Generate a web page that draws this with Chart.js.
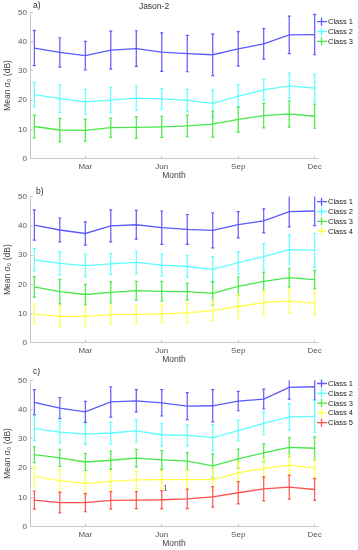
<!DOCTYPE html>
<html>
<head>
<meta charset="utf-8">
<script src="https://cdn.jsdelivr.net/npm/chart.js@4/dist/chart.umd.min.js"></script>
<style>
    html, body { margin: 0; padding: 0; background: #fff; overflow: hidden; }
    .panel { position: absolute; left: 0; width: 358px; height: 184px; }
</style>
</head>
<body>
<div class="panel" style="top:0"><canvas id="panelA" width="358" height="184"></canvas></div>
<div class="panel" style="top:184px"><canvas id="panelB" width="358" height="184"></canvas></div>
<div class="panel" style="top:368px"><canvas id="panelC" width="358" height="184"></canvas></div>
<script>
// months 1..12, only every third is labelled
const months = [1, 2, 3, 4, 5, 6, 7, 8, 9, 10, 11, 12];
const monthTicks = [3, 6, 9, 12];
const monthTickLabels = ['Mar', 'Jun', 'Sep', 'Dec'];
const yTicks = [0, 10, 20, 30, 40, 50];
const classNames = ['Class 1', 'Class 2', 'Class 3', 'Class 4', 'Class 5'];

// a) Jason-2, mean and standard deviation
const aClass1 = [37.8, 36.3, 35.2, 37.1, 37.6, 36.4, 35.9, 35.5, 37.5, 39.2, 42.3, 42.4];
const aClass1Std = [6.0, 5.0, 4.9, 6.5, 6.1, 6.6, 6.2, 7.1, 5.9, 5.2, 6.4, 6.9];
const aClass2 = [21.9, 20.5, 19.4, 20.0, 20.7, 20.4, 19.9, 18.9, 21.4, 23.5, 24.9, 24.1];
const aClass2Std = [4.2, 4.7, 4.3, 4.3, 4.2, 3.6, 3.8, 4.6, 3.9, 3.6, 4.3, 4.8];
const aClass3 = [11.0, 9.8, 9.7, 10.6, 10.7, 10.9, 11.2, 11.8, 13.4, 14.7, 15.3, 14.5];
const aClass3Std = [3.9, 4.0, 3.7, 3.3, 3.7, 3.6, 3.7, 4.4, 4.3, 4.2, 4.5, 4.1];

// b)
const bClass1 = [40.3, 38.6, 37.4, 40.0, 40.4, 39.4, 38.8, 38.5, 40.4, 41.7, 44.9, 45.1];
const bClass1Std = [5.2, 4.1, 4.0, 5.5, 4.9, 5.7, 5.1, 6.0, 4.5, 4.1, 5.2, 5.0];
const bClass2 = [28.4, 27.2, 26.4, 27.0, 27.5, 26.6, 26.1, 25.1, 27.4, 29.5, 31.9, 31.6];
const bClass2Std = [3.8, 4.0, 3.9, 3.6, 3.9, 3.7, 3.7, 4.4, 3.8, 4.4, 5.0, 5.8];
const bClass3 = [19.1, 17.5, 16.5, 17.2, 17.8, 17.6, 17.5, 16.9, 19.3, 21.0, 22.3, 21.6];
const bClass3Std = [3.5, 4.2, 3.5, 3.6, 3.2, 3.4, 2.8, 4.0, 3.2, 3.2, 3.2, 3.2];
const bClass4 = [9.8, 9.0, 9.0, 9.6, 9.7, 9.9, 10.2, 11.0, 12.4, 13.7, 14.3, 13.5];
const bClass4Std = [3.4, 3.6, 3.4, 3.2, 3.2, 3.2, 3.3, 3.4, 3.9, 4.1, 4.2, 3.9];

// c)
const cClass1 = [42.5, 40.5, 39.2, 42.6, 43.0, 42.3, 41.2, 41.3, 42.9, 43.6, 47.6, 47.8];
const cClass1Std = [4.3, 3.6, 3.6, 5.2, 3.8, 4.5, 4.6, 5.5, 3.3, 3.4, 4.0, 4.5];
const cClass2 = [33.6, 32.3, 31.6, 32.0, 32.7, 31.4, 31.2, 30.4, 32.8, 35.3, 37.5, 37.7];
const cClass2Std = [4.2, 3.7, 3.5, 3.7, 3.8, 3.8, 3.6, 4.5, 3.5, 3.9, 4.5, 5.5];
const cClass3 = [24.6, 23.5, 22.1, 22.7, 23.4, 22.8, 22.4, 20.8, 23.2, 25.2, 27.1, 26.8];
const cClass3Std = [2.7, 2.9, 2.9, 3.1, 3.0, 3.2, 2.9, 4.1, 3.3, 3.1, 3.3, 3.9];
const cClass4 = [17.2, 15.7, 14.8, 15.5, 16.0, 16.1, 16.1, 16.1, 18.4, 19.9, 21.0, 20.0];
const cClass4Std = [3.3, 3.8, 3.6, 3.3, 3.0, 3.0, 3.2, 3.6, 3.6, 3.3, 3.4, 3.2];
const cClass5 = [9.1, 8.2, 8.2, 9.0, 9.1, 9.2, 9.5, 10.2, 11.6, 12.9, 13.5, 12.7];
const cClass5Std = [3.1, 3.5, 3.1, 3.0, 2.9, 3.1, 3.3, 3.5, 3.8, 4.1, 4.1, 3.7];

// stray "1" mark in panel c (data coordinates)
const cNoteX = 6.15;
const cNoteY = 12.8;

const classColors = ['#5a5aff', '#5cffff', '#48e848', '#ffff48', '#ff5050'];
const fontFamily = '"Liberation Sans", Arial, Helvetica, sans-serif';

const errorBarPlugin = {
    id: 'errorBars',
    beforeDatasetsDraw(chart) {
        const ctx = chart.ctx;
        const area = chart.chartArea;
        const yScale = chart.scales.y;
        ctx.save();
        ctx.beginPath();
        ctx.rect(area.left - 4, area.top, area.right - area.left + 8, area.bottom - area.top);
        ctx.clip();
        chart.data.datasets.forEach(function (dataset, i) {
            const meta = chart.getDatasetMeta(i);
            ctx.strokeStyle = dataset.borderColor;
            ctx.lineWidth = 1.2;
            meta.data.forEach(function (point, j) {
                const mean = dataset.data[j].y;
                const sd = dataset.errors[j];
                const x = point.x;
                const yTop = yScale.getPixelForValue(mean + sd);
                const yBottom = yScale.getPixelForValue(mean - sd);
                ctx.beginPath();
                ctx.moveTo(x, yTop);
                ctx.lineTo(x, yBottom);
                ctx.moveTo(x - 1.5, yTop);
                ctx.lineTo(x + 1.5, yTop);
                ctx.moveTo(x - 1.5, yBottom);
                ctx.lineTo(x + 1.5, yBottom);
                ctx.stroke();
            });
        });
        ctx.restore();
    }
};

const panelTextPlugin = {
    id: 'panelText',
    afterDraw(chart, args, opts) {
        const ctx = chart.ctx;
        ctx.save();
        ctx.textBaseline = 'middle';

        // panel letter and title
        ctx.fillStyle = '#333';
        ctx.font = '8.5px ' + fontFamily;
        ctx.textAlign = 'left';
        ctx.fillText(opts.letter, opts.letterX, opts.letterY);
        if (opts.title) {
            ctx.textAlign = 'center';
            ctx.fillText(opts.title, 154, 7);
        }

        // legend: errorbar glyph + label
        ctx.textAlign = 'left';
        ctx.font = '7.5px ' + fontFamily;
        chart.data.datasets.forEach(function (dataset, i) {
            const y = opts.legendTop + i * 9.8;
            ctx.strokeStyle = dataset.borderColor;
            ctx.lineWidth = 1.3;
            ctx.beginPath();
            ctx.moveTo(317, y);
            ctx.lineTo(327, y);
            ctx.moveTo(321.5, y - 4);
            ctx.lineTo(321.5, y + 4);
            ctx.stroke();
            ctx.fillStyle = '#222';
            ctx.fillText(dataset.label, 328, y + 0.5);
        });

        if (opts.note) {
            ctx.fillStyle = '#555';
            ctx.font = '8px "DejaVu Serif", serif';
            ctx.textAlign = 'center';
            ctx.fillText(opts.note.text,
                chart.scales.x.getPixelForValue(opts.note.x),
                chart.scales.y.getPixelForValue(opts.note.y));
        }
        ctx.restore();
    }
};

function makeSeries(means, stds, index) {
    return {
        label: classNames[index],
        data: months.map(function (m, j) { return { x: m, y: means[j] }; }),
        errors: stds,
        borderColor: classColors[index],
        backgroundColor: classColors[index],
        borderWidth: 1.3,
        pointRadius: 0,
        tension: 0,
        fill: false
    };
}

function makeChart(canvasId, series, textOpts, topPad) {
    const canvas = document.getElementById(canvasId);
    return new Chart(canvas.getContext('2d'), {
        type: 'line',
        data: { datasets: series },
        options: {
            responsive: false,
            animation: false,
            events: [],
            layout: { padding: { top: topPad, right: 40, left: 0, bottom: 0 } },
            plugins: {
                legend: { display: false },
                tooltip: { enabled: false },
                panelText: textOpts
            },
            scales: {
                x: {
                    type: 'linear',
                    min: 0.83,
                    max: 12.13,
                    afterBuildTicks: function (scale) {
                        scale.ticks = monthTicks.map(function (v) { return { value: v }; });
                    },
                    afterFit: function (scale) { scale.height = 25.3; },
                    ticks: {
                        color: '#555',
                        font: { family: fontFamily, size: 8 },
                        padding: 6,
                        maxRotation: 0,
                        callback: function (value) {
                            const k = monthTicks.indexOf(value);
                            return k >= 0 ? monthTickLabels[k] : '';
                        }
                    },
                    grid: { drawOnChartArea: false, drawTicks: true, tickLength: -3, color: '#c8c8c8' },
                    border: { color: '#c8c8c8', width: 1 },
                    title: {
                        display: true,
                        text: 'Month',
                        color: '#444',
                        font: { family: fontFamily, size: 8.5 },
                        padding: { top: 0, bottom: 3 }
                    }
                },
                y: {
                    min: 0,
                    max: 50,
                    afterBuildTicks: function (scale) {
                        scale.ticks = yTicks.map(function (v) { return { value: v }; });
                    },
                    afterFit: function (scale) { scale.width = 30; },
                    ticks: {
                        color: '#555',
                        font: { family: fontFamily, size: 8 },
                        padding: 6
                    },
                    grid: { drawOnChartArea: false, drawTicks: true, tickLength: -3, color: '#c8c8c8' },
                    border: { color: '#c8c8c8', width: 1 },
                    title: {
                        display: true,
                        text: 'Mean σ\u2080 (dB)',
                        color: '#444',
                        font: { family: fontFamily, size: 8.5 },
                        padding: { top: 3, bottom: 0 }
                    }
                }
            }
        },
        plugins: [errorBarPlugin, panelTextPlugin]
    });
}

makeChart('panelA', [
    makeSeries(aClass1, aClass1Std, 0),
    makeSeries(aClass2, aClass2Std, 1),
    makeSeries(aClass3, aClass3Std, 2)
], { letter: 'a)', letterX: 33, letterY: 6, title: 'Jason-2', legendTop: 21.7 }, 12.3);

makeChart('panelB', [
    makeSeries(bClass1, bClass1Std, 0),
    makeSeries(bClass2, bClass2Std, 1),
    makeSeries(bClass3, bClass3Std, 2),
    makeSeries(bClass4, bClass4Std, 3)
], { letter: 'b)', letterX: 36, letterY: 8, legendTop: 17.7 }, 12.7);

makeChart('panelC', [
    makeSeries(cClass1, cClass1Std, 0),
    makeSeries(cClass2, cClass2Std, 1),
    makeSeries(cClass3, cClass3Std, 2),
    makeSeries(cClass4, cClass4Std, 3),
    makeSeries(cClass5, cClass5Std, 4)
], { letter: 'c)', letterX: 33, letterY: 4, legendTop: 15.5, note: { text: '1', x: cNoteX, y: cNoteY } }, 12.3);
</script>
</body>
</html>
